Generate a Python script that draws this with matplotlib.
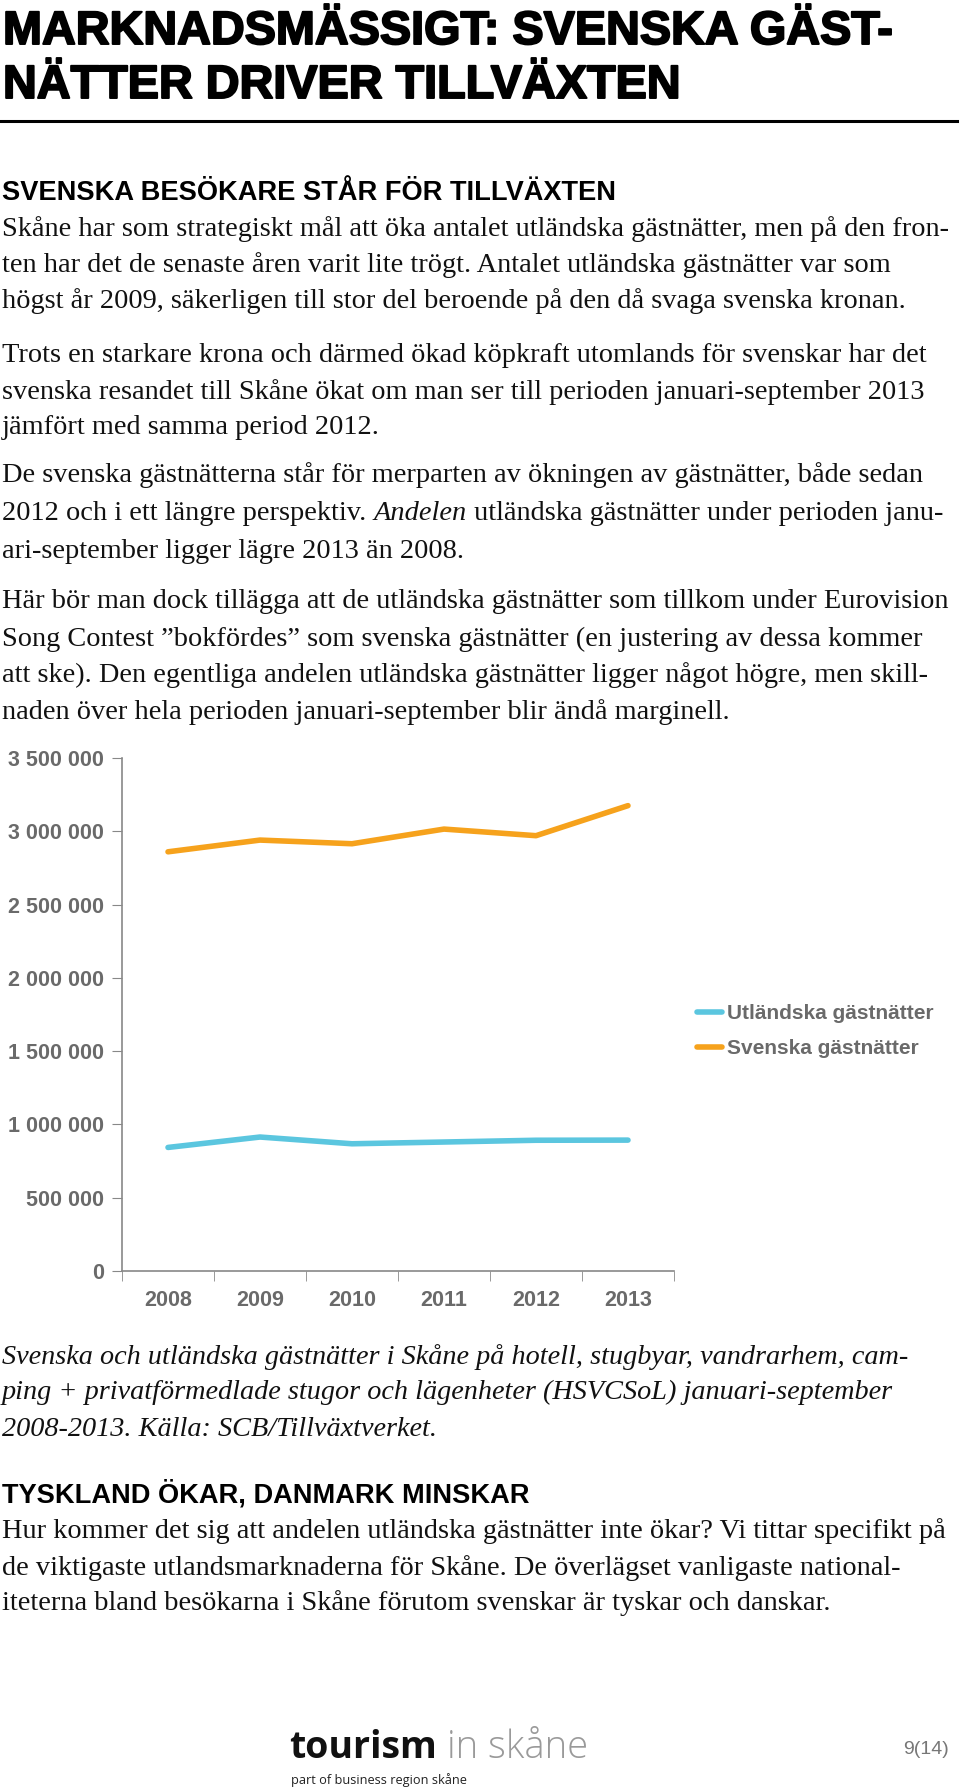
import matplotlib
matplotlib.use("Agg")
import matplotlib.pyplot as plt
import matplotlib.patheffects as pe
from matplotlib.ticker import FuncFormatter, MultipleLocator, FixedLocator

# ── data ──────────────────────────────────────────────────────────────────
years = ["2008", "2009", "2010", "2011", "2012", "2013"]
utlandska = [843000, 914000, 868000, 880000, 892000, 893000]
svenska = [2860000, 2940000, 2915000, 3015000, 2970000, 3175000]
series_labels = ["Utländska gästnätter", "Svenska gästnätter"]
series_colors = ["#5BC6DF", "#F6A21C"]

title_lines = ["MARKNADSMÄSSIGT: SVENSKA GÄST-", "NÄTTER DRIVER TILLVÄXTEN"]
heading1 = "SVENSKA BESÖKARE STÅR FÖR TILLVÄXTEN"
para1 = ["Skåne har som strategiskt mål att öka antalet utländska gästnätter, men på den fron-",
         "ten har det de senaste åren varit lite trögt. Antalet utländska gästnätter var som",
         "högst år 2009, säkerligen till stor del beroende på den då svaga svenska kronan."]
para2 = ["Trots en starkare krona och därmed ökad köpkraft utomlands för svenskar har det",
         "svenska resandet till Skåne ökat om man ser till perioden januari-september 2013",
         "jämfört med samma period 2012."]
para3 = ["De svenska gästnätterna står för merparten av ökningen av gästnätter, både sedan",
         None,
         "ari-september ligger lägre 2013 än 2008."]
para3_mixed = [("2012 och i ett längre perspektiv. ", "normal"), ("Andelen", "italic"),
               (" utländska gästnätter under perioden janu-", "normal")]
para4 = ["Här bör man dock tillägga att de utländska gästnätter som tillkom under Eurovision",
         "Song Contest \u201dbokfördes\u201d som svenska gästnätter (en justering av dessa kommer",
         "att ske). Den egentliga andelen utländska gästnätter ligger något högre, men skill-",
         "naden över hela perioden januari-september blir ändå marginell."]
caption = ["Svenska och utländska gästnätter i Skåne på hotell, stugbyar, vandrarhem, cam-",
           "ping + privatförmedlade stugor och lägenheter (HSVCSoL) januari-september",
           "2008-2013. Källa: SCB/Tillväxtverket."]
heading2 = "TYSKLAND ÖKAR, DANMARK MINSKAR"
para5 = ["Hur kommer det sig att andelen utländska gästnätter inte ökar? Vi tittar specifikt på",
         "de viktigaste utlandsmarknaderna för Skåne. De överlägset vanligaste national-",
         "iteterna bland besökarna i Skåne förutom svenskar är tyskar och danskar."]

W, H = 960, 1791
fig = plt.figure(figsize=(W / 100, H / 100), dpi=100)
bg = fig.add_axes([0, 0, 1, 1])
bg.set_xlim(0, W); bg.set_ylim(H, 0); bg.axis("off")
renderer = fig.canvas.get_renderer()

SERIF = ["Liberation Serif", "DejaVu Serif"]
SANS = ["Liberation Sans", "DejaVu Sans"]
NARROW = ["Liberation Sans Narrow", "Liberation Sans", "DejaVu Sans"]


def text_width(s, size, **kw):
    t = bg.text(0, 0, s, fontsize=size, **kw)
    w = t.get_window_extent(renderer).width
    t.remove()
    return w


def fit_size(s, target, **kw):
    return 10 * target / text_width(s, 10, **kw)


# ── title + rule ──────────────────────────────────────────────────────────
ts = fit_size(title_lines[0], 886, family=NARROW, weight="bold")
heavy = [pe.withStroke(linewidth=1.4, foreground="black")]
for s, y in zip(title_lines, [32, 86]):
    bg.text(3, y, s, fontsize=ts, family=NARROW, weight="bold", va="center", path_effects=heavy)
bg.plot([0, 957], [121, 121], color="black", lw=2.2)

# ── headings and body text ───────────────────────────────────────────────
hs = fit_size(heading1, 612, family=SANS, weight="bold")
bs = fit_size(para4[0], 948, family=SERIF)
cs = fit_size(caption[1], 895, family=SERIF, style="italic")

bg.text(2, 193, heading1, fontsize=hs, family=SANS, weight="bold", va="center")
bg.text(2, 1494, heading2, fontsize=hs, family=SANS, weight="bold", va="center")


def body(lines, ys):
    for s, y in zip(lines, ys):
        if s is not None:
            bg.text(2, y, s, fontsize=bs, family=SERIF, va="center", color="#111111")


body(para1, [229, 265, 301])
body(para2, [356, 392, 427])
body(para3, [475, 513, 551])
x = 2
for s, st in para3_mixed:
    bg.text(x, 513, s, fontsize=bs, family=SERIF, style=st, va="center", color="#111111")
    x += text_width(s, bs, family=SERIF, style=st)
body(para4, [602, 639, 675, 712])
body(para5, [1531, 1568, 1603])
for s, y in zip(caption, [1357, 1392, 1429]):
    bg.text(2, y, s, fontsize=cs, family=SERIF, style="italic", va="center", color="#111111")

# ── chart ────────────────────────────────────────────────────────────────
ax = fig.add_axes([122 / W, (H - 1271) / H, 552 / W, 513 / H])
xs = range(len(years))
for vals, lbl, col in zip([utlandska, svenska], series_labels, series_colors):
    ax.plot(xs, vals, color=col, lw=4, solid_capstyle="round", label=lbl)

ax.set_xlim(-0.5, len(years) - 0.5)
ax.set_ylim(0, 3500000)
ax.yaxis.set_major_locator(MultipleLocator(500000))
ax.yaxis.set_major_formatter(FuncFormatter(lambda v, p: f"{int(v):,}".replace(",", " ")))
ax.set_xticks(list(xs))
ax.set_xticklabels(years)
ax.xaxis.set_minor_locator(FixedLocator([i - 0.5 for i in range(len(years) + 1)]))
ax.tick_params(axis="x", which="major", length=0, pad=14)
ax.tick_params(axis="x", which="minor", length=7, color="#888888", direction="out")
ax.tick_params(axis="y", length=7, color="#888888", direction="out", pad=6)
for lab in ax.get_xticklabels() + ax.get_yticklabels():
    lab.set_fontfamily(SANS); lab.set_fontsize(15.5); lab.set_fontweight("bold"); lab.set_color("#6a6a6a")
for side in ["top", "right"]:
    ax.spines[side].set_visible(False)
for side in ["left", "bottom"]:
    ax.spines[side].set_color("#888888"); ax.spines[side].set_linewidth(1.2)

ax.legend(loc="center left", bbox_to_anchor=(687 / W, 1 - 1031 / H), bbox_transform=fig.transFigure,
          frameon=False, borderpad=0, handlelength=1.2, handletextpad=0.2, labelspacing=0.75,
          prop={"family": SANS, "size": 15, "weight": "bold"}, labelcolor="#6a6a6a")

# ── footer ───────────────────────────────────────────────────────────────
LOGO = ["Open Sans", "DejaVu Sans"]
bg.text(289, 1748, "tourism", fontsize=27, family=LOGO, weight="bold", va="center", color="#111111")
bg.text(447, 1748, "in skåne", fontsize=27.5, family=LOGO, weight="light", va="center", color="#9a9a9a")
bg.text(291, 1780, "part of business region skåne", fontsize=9.2, family=LOGO, va="center", color="#222222")
bg.text(949, 1750, "9(14)", fontsize=14, family=NARROW, va="center", ha="right", color="#777777")

fig.savefig("out.png", dpi=100)
